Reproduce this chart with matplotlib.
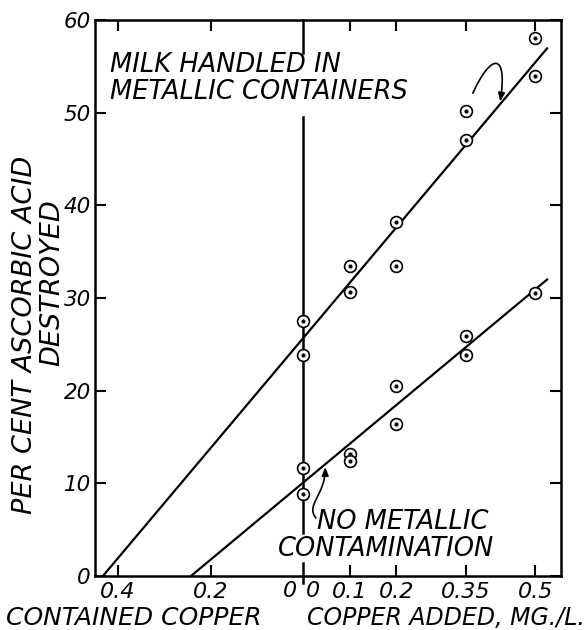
import numpy as np
import matplotlib
matplotlib.use("Agg")
import matplotlib.pyplot as plt
from matplotlib.path import Path
from matplotlib.patches import FancyArrowPatch

# ----------------------------
# Data
# ----------------------------
copper_metal = [0, 0, 0.1, 0.1, 0.2, 0.2, 0.35, 0.35, 0.5, 0.5]
pct_metal = [27.5, 23.9, 33.5, 30.6, 38.2, 33.5, 50.2, 47.0, 58.1, 54.0]

copper_clean = [0, 0, 0.1, 0.1, 0.2, 0.2, 0.35, 0.35, 0.5]
pct_clean = [11.7, 8.9, 13.2, 12.4, 20.5, 16.4, 25.9, 23.9, 30.5]

# drawn lines: (intercept, slope)
fit_metal = (25.7, 59.5)
fit_clean = (10.1, 41.7)
fit_end = 0.525

x_ticks = [-0.4, -0.2, 0.1, 0.2, 0.35, 0.5]
x_labels = ["0.4", "0.2", "0.1", "0.2", "0.35", "0.5"]
y_ticks = [0, 10, 20, 30, 40, 50, 60]

FONT = dict(family="DejaVu Sans", style="oblique")

fig = plt.figure(figsize=(5.87, 6.3), dpi=100)
ax = fig.add_axes([95 / 587, 1 - 576 / 630, 466 / 587, 556 / 630])
ax.set_xlim(-0.449, 0.555)
ax.set_ylim(0, 60)

for s in ax.spines.values():
    s.set_linewidth(1.8)

# ----------------------------
# Fitted lines
# ----------------------------
for b, m in (fit_metal, fit_clean):
    xs = np.array([-b / m, fit_end])
    ax.plot(xs, b + m * xs, color="black", lw=1.6, zorder=2)

# ----------------------------
# Points (circle with a dot)
# ----------------------------
for xs, ys in ((copper_metal, pct_metal), (copper_clean, pct_clean)):
    ax.plot(xs, ys, "o", ms=8.5, mfc="white", mec="black", mew=1.2, zorder=3)
    ax.plot(xs, ys, "o", ms=2, color="black", zorder=4)

# vertical divider at zero, broken around the labels
for y0, y1 in ((56.4, 60), (4.6, 49.5), (-0.8, 1.4)):
    ax.plot([0, 0], [y0, y1], color="black", lw=1.8, clip_on=False, zorder=2)

# ----------------------------
# Ticks
# ----------------------------
ax.set_xticks(x_ticks)
ax.set_xticklabels(x_labels, fontsize=16, **FONT)
ax.set_yticks(y_ticks)
ax.set_yticklabels([str(v) for v in y_ticks], fontsize=15.5, **FONT)
ax.tick_params(direction="in", length=8, width=1.5, top=True, right=True)
ax.tick_params(axis="x", pad=4)
ax.tick_params(axis="y", pad=3)

for xz in (-0.030, 0.020):
    ax.text(xz, -0.5, "0", ha="center", va="top", fontsize=16, **FONT)

# ----------------------------
# Curve labels and arrows
# ----------------------------
ax.text(-0.417, 55.1, "MILK HANDLED IN", ha="left", va="center", fontsize=18.5, **FONT)
ax.text(-0.417, 52.2, "METALLIC CONTAINERS", ha="left", va="center", fontsize=18.5, **FONT)
ax.text(0.030, 5.8, "NO METALLIC", ha="left", va="center", fontsize=18.5, **FONT)
ax.text(-0.055, 2.9, "CONTAMINATION", ha="left", va="center", fontsize=18.5, **FONT)

hook1 = Path([(0.365, 52.1), (0.405, 56.5), (0.44, 56.5), (0.424, 51.2)],
             [Path.MOVETO, Path.CURVE4, Path.CURVE4, Path.CURVE4])
hook2 = Path([(0.027, 6.26), (0.004, 7.66), (0.047, 8.74), (0.047, 11.76)],
             [Path.MOVETO, Path.CURVE4, Path.CURVE4, Path.CURVE4])
for p in (hook1, hook2):
    ax.add_patch(FancyArrowPatch(path=p, arrowstyle="-|>,head_length=5,head_width=2",
                                 color="black", lw=1.2, zorder=5))

# ----------------------------
# Axis titles
# ----------------------------
fig.text(25 / 587, 1 - 335 / 630, "PER CENT ASCORBIC ACID", rotation=90,
         ha="center", va="center", fontsize=19.5, **FONT)
fig.text(52 / 587, 1 - 283 / 630, "DESTROYED", rotation=90,
         ha="center", va="center", fontsize=19.5, **FONT)
fig.text(6 / 587, 1 - 618 / 630, "CONTAINED COPPER", ha="left", va="center",
         fontsize=18, **FONT)
fig.text(585 / 587, 1 - 618 / 630, "COPPER ADDED, MG./L.", ha="right", va="center",
         fontsize=17, **FONT)

fig.savefig("out.png", dpi=100)
